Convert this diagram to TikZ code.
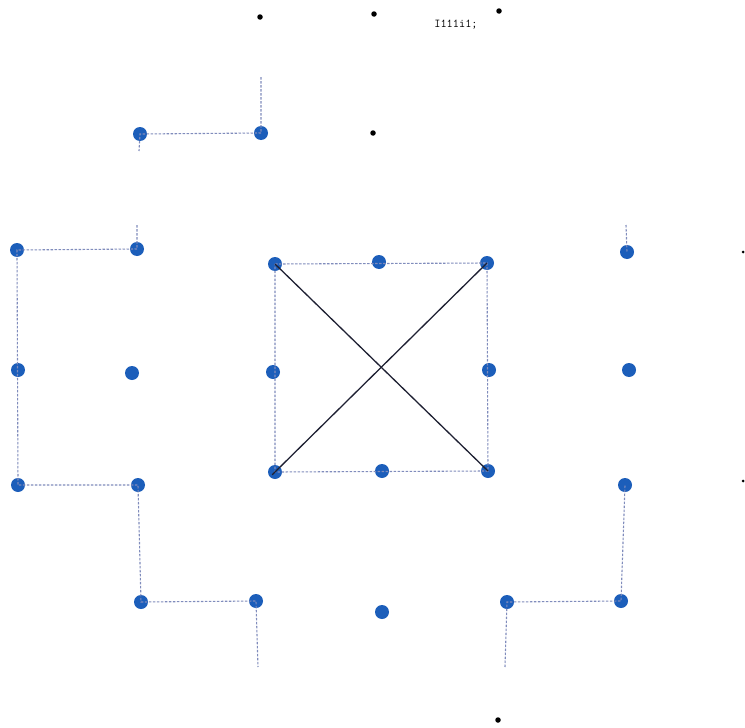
\documentclass[tikz,border=0pt]{standalone}
\usepackage{tikz}
\usetikzlibrary{positioning, calc}
\definecolor{dotblue}{RGB}{28, 94, 186}
\definecolor{guide}{RGB}{128, 140, 188}
\definecolor{crossline}{RGB}{30, 32, 50}
\tikzset{
	gridpt/.style={circle, fill=dotblue, inner sep=0pt, minimum size=14pt},
	tickpt/.style={circle, fill=black, inner sep=0pt, minimum size=5.5pt},
	guideline/.style={draw=guide, dash pattern=on 2.5pt off 1.5pt, line width=1.1pt},
	crossing/.style={draw=crossline, line width=1.3pt}
}

\begin{document}
\begin{tikzpicture}[x=1pt, y=-1pt]
		\useasboundingbox (0,0) rectangle (745,728);
		% stray marks and label
		\node[tickpt] (k1) at (260,17) {};
		\node[tickpt] (k2) at (374,14) {};
		\node[tickpt] (k3) at (499,11) {};
		\node[tickpt] (k4) at (373,133) {};
		\node[tickpt, minimum size=3pt] (k5) at (743,252) {};
		\node[tickpt, minimum size=3pt] (k6) at (743,481) {};
		\node[tickpt] (k7) at (498,720) {};
		\node[font=\fontsize{12}{14}\selectfont\ttfamily, inner sep=0pt] (lbl) at (456,25) {I111i1;};

		% top pair
		\node[gridpt] (t1) at (140,134) {};
		\node[gridpt] (t2) at (261,133) {};
		\coordinate (t2up) at (261,77);
		\coordinate (t1dn) at (139,151);

		% left block
		\node[gridpt] (l1) at (17,250) {};
		\node[gridpt] (l2) at (137,249) {};
		\node[gridpt] (l3) at (18,370) {};
		\node[gridpt] (l4) at (132,373) {};
		\node[gridpt] (l5) at (18,485) {};
		\node[gridpt] (l6) at (138,485) {};
		\coordinate (l2up) at (137,225);

		% bottom row
		\node[gridpt] (b1) at (141,602) {};
		\node[gridpt] (b2) at (256,601) {};
		\node[gridpt] (c0) at (382,612) {};
		\node[gridpt] (b3) at (507,602) {};
		\node[gridpt] (b4) at (621,601) {};
		\coordinate (b2dn) at (258,667);
		\coordinate (b3dn) at (505,667);

		% right column
		\node[gridpt] (r1) at (627,252) {};
		\node[gridpt] (r2) at (629,370) {};
		\node[gridpt] (r3) at (625,485) {};
		\coordinate (r1up) at (626,225);

		% centre square
		\node[gridpt] (s1) at (275,264) {};
		\node[gridpt] (s2) at (379,262) {};
		\node[gridpt] (s3) at (487,263) {};
		\node[gridpt] (s4) at (273,372) {};
		\node[gridpt] (s5) at (489,370) {};
		\node[gridpt] (s6) at (275,472) {};
		\node[gridpt] (s7) at (382,471) {};
		\node[gridpt] (s8) at (488,471) {};

		% dashed guides
		\draw[guideline] (t2up) -- (t2.center) -- (t1.center) -- (t1dn);
		\draw[guideline] (l2up) -- (l2.center) -- (l1.center) -- (l5.center) -- (l6.center)
			-- (b1.center) -- (b2.center) -- (b2dn);
		\draw[guideline] (b3dn) -- (b3.center) -- (b4.center) -- (r3.center);
		\draw[guideline] (r1up) -- (r1.center);
		\draw[guideline] (s1.center) -- (s3.center) -- (s8.center) -- (s6.center) -- cycle;

		% diagonals
		\draw[crossing] (s1.center) -- (s8.center);
		\draw[crossing] (s3.center) -- ($(s6.center)!-4pt!(s3.center)$);
	\end{tikzpicture}
\end{document}
